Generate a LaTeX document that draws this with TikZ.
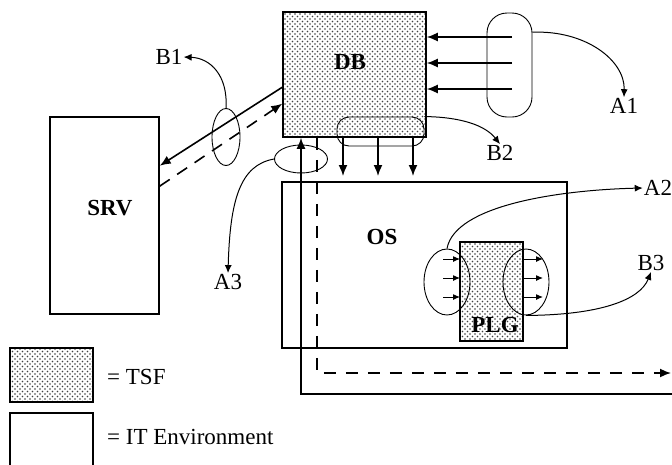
\documentclass[tikz,border=0pt]{standalone}
\usepackage{fontspec}
\setmainfont{Liberation Serif}
\usetikzlibrary{shapes.geometric, arrows.meta, patterns}

% dotted fill of the TSF parts
\pgfdeclarepatternformonly{tsfdots}{\pgfqpoint{-1pt}{-1pt}}{\pgfqpoint{4pt}{4pt}}{\pgfqpoint{5pt}{5pt}}{
    \pgfpathcircle{\pgfqpoint{0pt}{0pt}}{0.8pt}
    \pgfpathcircle{\pgfqpoint{2.5pt}{2.5pt}}{0.8pt}
    \pgfusepath{fill}
}

\begin{document}
\begin{tikzpicture}[x=1pt, y=-1pt,
    txt/.style={font=\fontsize{23}{27}\selectfont, inner sep=1pt},
    boxlabel/.style={font=\fontsize{23}{27}\selectfont\bfseries, inner sep=1pt},
    tsf/.style={draw, line width=1.5pt, pattern=tsfdots, pattern color=black!75, inner sep=0pt},
    itenv/.style={draw, line width=1.5pt, inner sep=0pt},
    oval/.style={draw, ellipse, line width=0.9pt, inner sep=0pt},
    bigtip/.style={line width=1.6pt, -{Latex[length=11pt, width=9pt]}},
    smalltip/.style={line width=1pt, -{Latex[length=7pt, width=6pt]}},
    pointer/.style={line width=1pt, -{Latex[length=8pt, width=7pt]}}]

    \useasboundingbox (0,0) rectangle (672,464);

    % Draw the components
    \node[tsf, minimum width=143, minimum height=125] (db) at (354.5,74.5) {};
    \node[itenv, minimum width=109, minimum height=197] (srv) at (104.5,215.5) {};
    \node[itenv, minimum width=285, minimum height=166] (os) at (424.5,265) {};
    \node[tsf, minimum width=63, minimum height=99] (plg) at (491.5,291.5) {};

    % Names of the components
    \node[boxlabel] (dblabel) at (350,62) {DB};
    \node[boxlabel] (srvlabel) at (110,208) {SRV};
    \node[boxlabel] (oslabel) at (382,237) {OS};
    \node[boxlabel] (plglabel) at (495,325) {PLG};

    % Flows into and out of DB
    \coordinate (r1) at (512,37);
    \coordinate (r2) at (512,63);
    \coordinate (r3) at (512,89);
    \draw[bigtip] (r1) -- (r1 -| db.east);
    \draw[bigtip] (r2) -- (r2 -| db.east);
    \draw[bigtip] (r3) -- (r3 -| db.east);

    \coordinate (d1) at (343,176);
    \coordinate (d2) at (378,176);
    \coordinate (d3) at (413,176);
    \draw[bigtip] (d1 |- db.south) -- (d1);
    \draw[bigtip] (d2 |- db.south) -- (d2);
    \draw[bigtip] (d3 |- db.south) -- (d3);

    \draw[bigtip] (db.190) -- (srv.42);
    \draw[bigtip, dashed, dash pattern=on 12pt off 9pt] (srv.28) -- (db.202);

    % The ovals round the interfaces
    \node[draw, rounded corners=20pt, line width=0.9pt, minimum width=45, minimum height=104] (a1oval) at (509.5,65) {};
    \node[draw, rounded corners=12pt, line width=0.9pt, minimum width=87, minimum height=29] (b2oval) at (380.5,131.5) {};
    \node[oval, minimum width=28, minimum height=57] (b1oval) at (226,137) {};
    \node[oval, minimum width=53, minimum height=28] (a3oval) at (301,159) {};
    \node[oval, minimum width=46, minimum height=66] (a2oval) at (447,282) {};
    \node[oval, minimum width=46, minimum height=66] (b3oval) at (526,282) {};

    % Lines past OS to the outside
    \coordinate (inext) at (672,394);
    \coordinate (dcorner) at (317,373);
    \coordinate (outext) at (671,373);
    \draw[bigtip] (inext) -| (a3oval.center |- db.south);
    \draw[bigtip, dashed, dash pattern=on 12pt off 10pt] (dcorner |- db.south) -- (dcorner) -- (outext);

    % Small flows into and out of PLG
    \foreach \y in {259,278,297} {
        \draw[smalltip] (443,\y) -- (460,\y);
        \draw[smalltip] (523,\y) -- (543,\y);
    }

    % Interface labels
    \node[txt] (a1) at (624,106) {A1};
    \node[txt] (b2) at (500,153) {B2};
    \node[txt] (b1) at (169,57) {B1};
    \node[txt] (a3) at (228,282) {A3};
    \node[txt] (a2) at (658,188) {A2};
    \node[txt] (b3) at (651,263) {B3};

    % Pointers from ovals to labels
    \draw[pointer] (a1oval.55) .. controls (585,30) and (625,60) .. (a1.north);
    \draw[pointer] (b2oval.north east) .. controls (460,117) and (485,125) .. (b2.north);
    \draw[pointer] (b1oval.north) .. controls (228,75) and (210,58) .. (b1.east);
    \draw[pointer] (a3oval.west) .. controls (240,165) and (230,200) .. (a3.north);
    \draw[pointer] (a2oval.north) .. controls (455,205) and (560,190) .. (a2.west);
    \draw[pointer] (b3oval.south) .. controls (600,315) and (640,300) .. (b3.south);

    % Legend
    \node[tsf, minimum width=83, minimum height=54] (legtsf) at (51.5,375) {};
    \node[itenv, minimum width=83, minimum height=53] (legit) at (51.5,439.5) {};
    \node[txt, anchor=west] (legtsftext) at (106,377) {= TSF};
    \node[txt, anchor=west] (legittext) at (106,437) {= IT Environment};
\end{tikzpicture}
\end{document}
